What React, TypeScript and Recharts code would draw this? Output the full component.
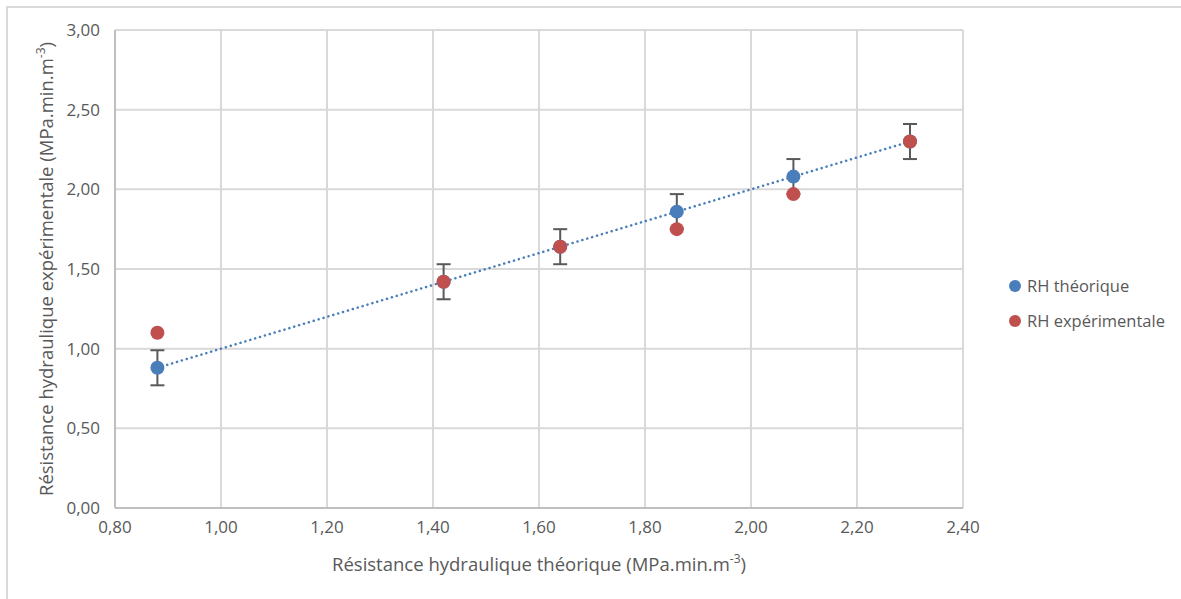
import React from 'react';
import {
  ScatterChart, Scatter, XAxis, YAxis, CartesianGrid, ErrorBar, Label
} from 'recharts';

const theoX = [0.88, 1.42, 1.64, 1.86, 2.08, 2.3];
const theoY = [0.88, 1.42, 1.64, 1.86, 2.08, 2.3];
const expY = [1.1, 1.42, 1.64, 1.75, 1.97, 2.3];
const theoErr = [0.11, 0.11, 0.11, 0.11, 0.11, 0.11];
const xTicks = [0.8, 1.0, 1.2, 1.4, 1.6, 1.8, 2.0, 2.2, 2.4];
const yTicks = [0, 0.5, 1.0, 1.5, 2.0, 2.5, 3.0];
const seriesNames = ['RH théorique', 'RH expérimentale'];

const BLUE = '#4a7ebb';
const RED = '#c0504d';
const GREY_TXT = '#595959';
const FONT = '"Open Sans", sans-serif';

const theoData = theoX.map((x, i) => ({ x, y: theoY[i], err: theoErr[i] }));
const expData = theoX.map((x, i) => ({ x, y: expY[i] }));

// linear trendline on the theoretical series
const n = theoX.length;
const mx = theoX.reduce((a, b) => a + b, 0) / n;
const my = theoY.reduce((a, b) => a + b, 0) / n;
const slope = theoX.reduce((s, x, i) => s + (x - mx) * (theoY[i] - my), 0) /
  theoX.reduce((s, x) => s + (x - mx) ** 2, 0);
const icpt = my - slope * mx;
const xMin = Math.min(...theoX);
const xMax = Math.max(...theoX);
const trendData = [
  { x: xMin, y: icpt + slope * xMin },
  { x: xMax, y: icpt + slope * xMax },
];

const fmt = (v: number) => v.toFixed(2).replace('.', ',');

const Dot = (color: string) => (props: any) => (
  <circle cx={props.cx} cy={props.cy} r={7} fill={color} />
);

const XTitle = (props: any) => {
  const { x, y, width } = props.viewBox;
  return (
    <text x={x + width / 2} y={y + 63} textAnchor="middle" fill={GREY_TXT} fontSize={18.5} fontFamily={FONT}>
      Résistance hydraulique théorique (MPa.min.m
      <tspan dy={-8} fontSize={12}>-3</tspan>
      <tspan dy={8}>)</tspan>
    </text>
  );
};

const YTitle = (props: any) => {
  const { y, height } = props.viewBox;
  const cx = 45;
  const cy = y + height / 2;
  return (
    <text x={cx} y={cy} transform={`rotate(-90 ${cx} ${cy})`} textAnchor="middle" fill={GREY_TXT} fontSize={18.5} fontFamily={FONT}>
      Résistance hydraulique expérimentale (MPa.min.m
      <tspan dy={-8} fontSize={12}>-3</tspan>
      <tspan dy={8}>)</tspan>
    </text>
  );
};

const LegendBox = () => (
  <div style={{ position: 'absolute', left: 1001, top: 260, fontFamily: FONT, fontSize: 16.5, color: GREY_TXT }}>
    {seriesNames.map((name, i) => (
      <div key={name} style={{ display: 'flex', alignItems: 'center', height: 35 }}>
        <span style={{ width: 12, height: 12, borderRadius: 6, background: i === 0 ? BLUE : RED, marginRight: 6 }} />
        <span>{name}</span>
      </div>
    ))}
  </div>
);

export default function App() {
  return (
    <div style={{ position: 'absolute', left: 6, top: 6, borderTop: '2px solid #d9d9d9', borderLeft: '2px solid #d9d9d9', width: 1173, height: 591 }}>
      <ScatterChart width={1165} height={583} margin={{ top: 22, right: 210, left: 47, bottom: 43 }}>
        <CartesianGrid stroke="#d9d9d9" strokeWidth={2} />
        <XAxis
          type="number" dataKey="x" domain={[0.8, 2.4]} ticks={xTicks} tickFormatter={fmt}
          stroke="#bfbfbf" strokeWidth={2} tickLine={false} tickSize={6} tickMargin={7} height={40}
          tick={{ fill: GREY_TXT, fontSize: 17, fontFamily: FONT }} interval={0}
        >
          <Label content={XTitle} />
        </XAxis>
        <YAxis
          type="number" dataKey="y" domain={[0, 3]} ticks={yTicks} tickFormatter={fmt}
          stroke="#bfbfbf" strokeWidth={2} tickLine={false} tickSize={6} tickMargin={9} width={60}
          tick={{ fill: GREY_TXT, fontSize: 17, fontFamily: FONT }} interval={0}
        >
          <Label content={YTitle} />
        </YAxis>
        <Scatter
          data={trendData} legendType="none" isAnimationActive={false}
          shape={() => <g />}
          line={{ stroke: BLUE, strokeWidth: 2.5, strokeDasharray: '0.1 5', strokeLinecap: 'round' }}
        />
        <Scatter data={theoData} name={seriesNames[0]} fill={BLUE} shape={Dot(BLUE)} isAnimationActive={false}>
          <ErrorBar dataKey="err" direction="y" stroke={GREY_TXT} strokeWidth={2} width={7} isAnimationActive={false} />
        </Scatter>
        <Scatter data={expData} name={seriesNames[1]} fill={RED} shape={Dot(RED)} isAnimationActive={false} />
      </ScatterChart>
      <LegendBox />
    </div>
  );
}
